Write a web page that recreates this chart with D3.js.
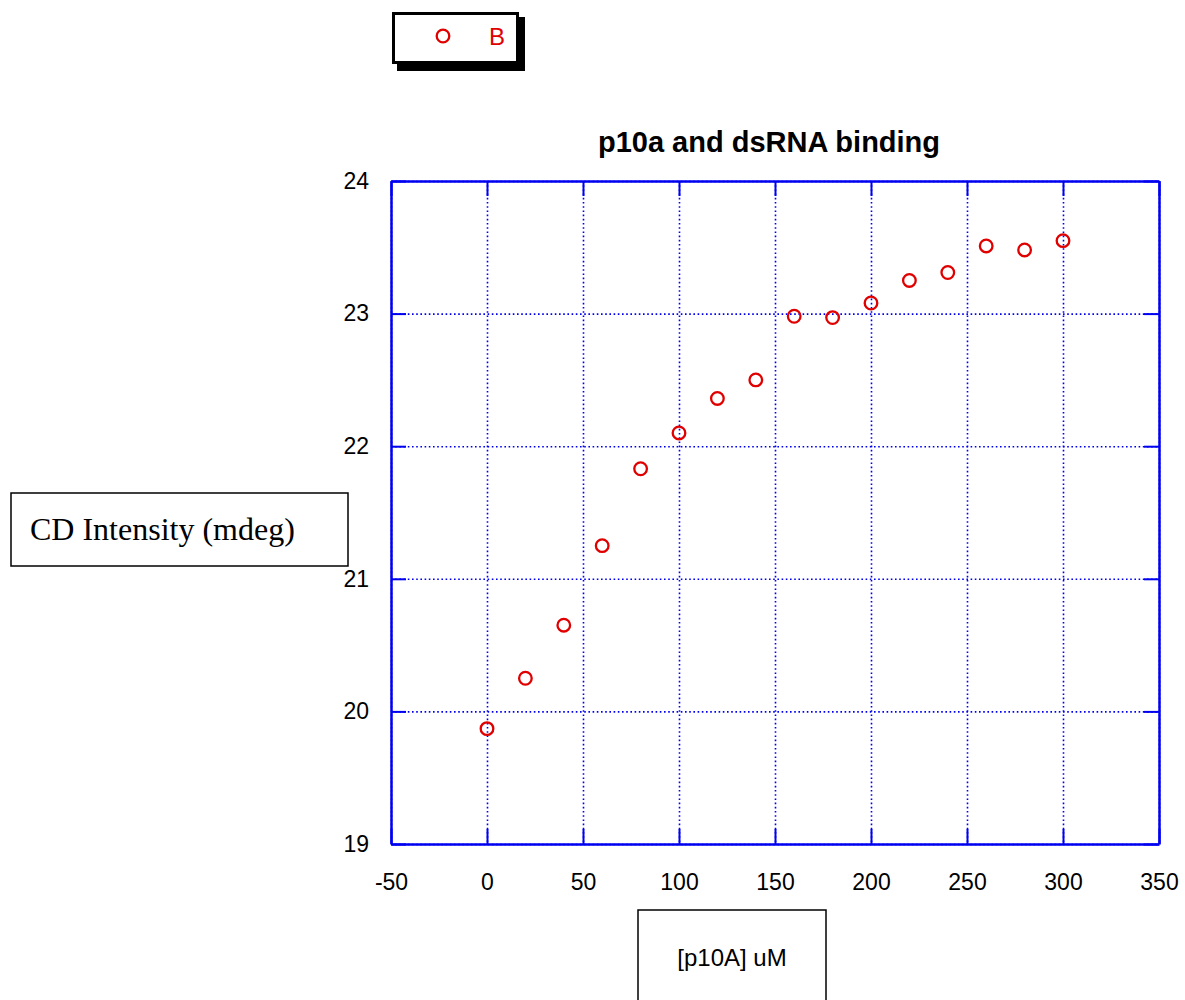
<!DOCTYPE html>
<html>
<head>
<meta charset="utf-8">
<script src="https://cdn.jsdelivr.net/npm/d3@7"></script>
<style>
  body { margin: 0; background: #fff; }
  text { font-family: "Liberation Sans", Arial, sans-serif; }
</style>
</head>
<body>
<svg></svg>
<script>
// data
const doses = [0, 20, 40, 60, 80, 100, 120, 140, 160, 180, 200, 220, 240, 260, 280, 300];
const cdValues = [19.87, 20.25, 20.65, 21.25, 21.83, 22.10, 22.36, 22.50, 22.98, 22.97, 23.08, 23.25, 23.31, 23.51, 23.48, 23.55];
const xTicks = [-50, 0, 50, 100, 150, 200, 250, 300, 350];
const yTicks = [19, 20, 21, 22, 23, 24];
const seriesName = "B";

const data = doses.map((d, i) => [d, cdValues[i]]);

// w and h of the svg
const w = 1185;
const h = 1000;
// plot frame
const margin = { top: 181, bottom: 156, left: 391, right: 26 };
const chartW = w - margin.left - margin.right;
const chartH = h - margin.top - margin.bottom;

const blue = "#0000f0";
const red = "#e00000";
const fmt = d => String(d); // plain hyphen for negatives, no decimals

const svg = d3.select("svg").attr("width", w).attr("height", h);

const chart = svg
  .append("g")
  .attr("transform", `translate(${margin.left}, ${margin.top})`);

const xScale = d3.scaleLinear().range([0, chartW]).domain([-50, 350]);
const yScale = d3.scaleLinear().range([chartH, 0]).domain([19, 24]);

// dotted grid
chart
  .append("g")
  .call(d3.axisBottom(xScale).tickValues(xTicks).tickSize(chartH).tickFormat(""))
  .call(g => g.select(".domain").remove())
  .selectAll("line")
  .attr("stroke", blue)
  .attr("stroke-width", 1.6)
  .attr("stroke-dasharray", "1.6,2.6");

chart
  .append("g")
  .call(d3.axisRight(yScale).tickValues(yTicks).tickSize(chartW).tickFormat(""))
  .call(g => g.select(".domain").remove())
  .selectAll("line")
  .attr("stroke", blue)
  .attr("stroke-width", 1.6)
  .attr("stroke-dasharray", "1.6,2.6");

// axes with inside ticks on all four sides
const tickLen = 15;
const styleAxis = g => {
  g.select(".domain").attr("stroke", blue).attr("stroke-width", 2.5);
  g.selectAll(".tick line").attr("stroke", blue).attr("stroke-width", 2);
  g.selectAll(".tick text")
    .attr("fill", "#000")
    .style("font-family", "'Liberation Sans', Arial, sans-serif")
    .style("font-size", "23px");
};

chart
  .append("g")
  .attr("transform", `translate(0, ${chartH})`)
  .call(d3.axisBottom(xScale).tickValues(xTicks).tickFormat(fmt).tickSizeInner(-tickLen).tickSizeOuter(0).tickPadding(30))
  .call(styleAxis);

chart
  .append("g")
  .call(d3.axisTop(xScale).tickValues(xTicks).tickSizeInner(-tickLen).tickSizeOuter(0).tickFormat(""))
  .call(styleAxis);

chart
  .append("g")
  .call(d3.axisLeft(yScale).tickValues(yTicks).tickFormat(fmt).tickSizeInner(-tickLen).tickSizeOuter(0).tickPadding(22))
  .call(styleAxis);

chart
  .append("g")
  .attr("transform", `translate(${chartW}, 0)`)
  .call(d3.axisRight(yScale).tickValues(yTicks).tickSizeInner(-tickLen).tickSizeOuter(0).tickFormat(""))
  .call(styleAxis);

// points
chart
  .selectAll("circle.pt")
  .data(data)
  .enter()
  .append("circle")
  .attr("class", "pt")
  .attr("cx", d => xScale(d[0]))
  .attr("cy", d => yScale(d[1]))
  .attr("r", 6.3)
  .attr("fill", "none")
  .attr("stroke", red)
  .attr("stroke-width", 2.3);

// title
svg
  .append("text")
  .attr("x", 769)
  .attr("y", 152)
  .attr("text-anchor", "middle")
  .style("font-size", "29px")
  .style("font-weight", "bold")
  .text("p10a and dsRNA binding");

// legend with drop shadow
const legend = svg.append("g").attr("transform", "translate(392, 12)");
legend.append("rect").attr("x", 5).attr("y", 5).attr("width", 128).attr("height", 54).attr("fill", "#000");
legend.append("rect").attr("x", 1.5).attr("y", 1.5).attr("width", 124).attr("height", 49)
  .attr("fill", "#fff").attr("stroke", "#000").attr("stroke-width", 3);
legend.append("circle").attr("cx", 51).attr("cy", 24).attr("r", 6.3)
  .attr("fill", "none").attr("stroke", red).attr("stroke-width", 2.3);
legend.append("text").attr("x", 97).attr("y", 33).attr("fill", red)
  .style("font-size", "24px").text(seriesName);

// y title box
svg.append("rect").attr("x", 11).attr("y", 493).attr("width", 337).attr("height", 73)
  .attr("fill", "#fff").attr("stroke", "#000").attr("stroke-width", 1.5);
svg.append("text").attr("x", 30).attr("y", 540)
  .style("font-family", "'Liberation Serif', 'Times New Roman', serif")
  .style("font-size", "32px")
  .text("CD Intensity (mdeg)");

// x title box, runs off the bottom edge
svg.append("rect").attr("x", 638).attr("y", 910).attr("width", 188).attr("height", 100)
  .attr("fill", "#fff").attr("stroke", "#000").attr("stroke-width", 1.5);
svg.append("text").attr("x", 732).attr("y", 966)
  .attr("text-anchor", "middle")
  .style("font-size", "24px")
  .text("[p10A] uM");
</script>
</body>
</html>
